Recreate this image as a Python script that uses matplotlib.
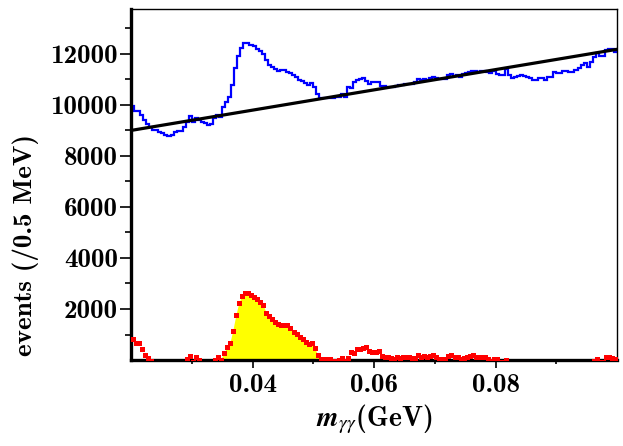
import numpy as np
import matplotlib
matplotlib.use("Agg")
import matplotlib.pyplot as plt
from matplotlib.ticker import FixedLocator

plt.rcParams['mathtext.fontset'] = 'stix'

# binning: 0.5 MeV bins from 0.02 to 0.1 GeV
x_lo, x_hi, nbins = 0.02, 0.1, 160

# data histogram (events / 0.5 MeV)
blue = [9950, 9780, 9780, 9600, 9420, 9250, 9150, 9015, 9015, 8950,
        8900, 8840, 8790, 8820, 8950, 8990, 8960, 9150, 9340, 9560,
        9350, 9480, 9400, 9320, 9300, 9220, 9270, 9500, 9600, 9520,
        9900, 10120, 10300, 10780, 11430, 11920, 12220, 12410, 12410, 12350,
        12300, 12200, 12130, 12000, 11760, 11560, 11470, 11400, 11340, 11370,
        11360, 11310, 11240, 11170, 11080, 10990, 10920, 10840, 10800, 10850,
        10710, 10430, 10260, 10280, 10290, 10290, 10260, 10300, 10330, 10430,
        10330, 10720, 10680, 10900, 10970, 11010, 11040, 10920, 10820, 10880,
        10880, 10910, 10760, 10740, 10720, 10700, 10690, 10740, 10780, 10790,
        10820, 10820, 10830, 10900, 11010, 10970, 11010, 10980, 11040, 11080,
        11040, 11020, 11020, 11020, 11170, 11210, 11150, 11170, 11080, 11200,
        11260, 11290, 11340, 11330, 11300, 11340, 11340, 11300, 11240, 11340,
        11230, 11170, 11170, 11400, 11170, 11070, 11100, 11130, 11160, 11130,
        11080, 11050, 10980, 10970, 11060, 11060, 10980, 11080, 11100, 11300,
        11270, 11240, 11340, 11320, 11280, 11300, 11350, 11430, 11560, 11650,
        11500, 11670, 11860, 12020, 11920, 11920, 12150, 12180, 12180, 12090]

# background-subtracted points
red = [810, 680, 650, 420, 195, 65, -50, -120, -150, -230,
       -300, -380, -450, -440, -330, -310, -360, -190, 30, 160,
       -60, 105, 20, -100, -130, -230, -200, 20, 105, 20,
       260, 500, 650, 1150, 1760, 2250, 2520, 2640, 2640, 2550,
       2460, 2380, 2290, 2155, 1855, 1738, 1594, 1476, 1410, 1370,
       1370, 1370, 1240, 1110, 1005, 914, 810, 692, 626, 650,
       457, 195, 40, 25, 25, 25, -50, -30, -10, 65,
       -40, 65, 325, 260, 430, 430, 483, 520, 352, 300,
       330, 370, 160, 130, 100, 65, 50, 105, 65, 105,
       105, 105, 65, 90, 195, 105, 157, 105, 157, 196,
       105, 26, 26, 26, 157, 196, 131, 105, 26, 65,
       105, 157, 196, 131, 131, 131, 131, 26, -40, 26,
       26, -60, -80, 15, -260, -380, -360, -350, -330, -380,
       -440, -480, -560, -580, -500, -510, -600, -520, -520, -330,
       -370, -420, -330, -360, -420, -430, -400, -340, -230, -150,
       -320, -170, -40, 26, -60, -80, 105, 131, 65, 26]

# linear background fit end points
fit_x = [0.02, 0.1]
fit_y = [9000, 12180]

# signal window (bin indices) for the yellow fill
sig_lo, sig_hi = 29, 63

edges = np.linspace(x_lo, x_hi, nbins + 1)
centers = 0.5 * (edges[:-1] + edges[1:])
blue = np.array(blue)
red = np.array(red)

fig = plt.figure(figsize=(6.23, 4.46), dpi=100)
ax = fig.add_axes([0.2103, 0.1928, 0.7801, 0.787])

ax.fill_between(centers[sig_lo:sig_hi], 0, np.clip(red[sig_lo:sig_hi], 0, None),
                color='yellow', lw=0, zorder=1)
ax.stairs(blue, edges, baseline=None, color='blue', lw=1.6, zorder=2)
ax.plot(fit_x, fit_y, color='black', lw=2.3, zorder=3)
ax.plot(centers, red, 's', color='red', ms=3.6, mew=0, zorder=4)

ax.set_xlim(x_lo, x_hi)
ax.set_ylim(0, 13760)

ax.xaxis.set_major_locator(FixedLocator([0.04, 0.06, 0.08]))
ax.xaxis.set_minor_locator(FixedLocator([0.03, 0.05, 0.07, 0.09]))
ax.yaxis.set_major_locator(FixedLocator([2000, 4000, 6000, 8000, 10000, 12000]))
ax.yaxis.set_minor_locator(FixedLocator([1000, 3000, 5000, 7000, 9000, 11000, 13000]))
ax.set_xticklabels(['0.04', '0.06', '0.08'])
ax.set_yticklabels(['2000', '4000', '6000', '8000', '10000', '12000'])

ax.tick_params(axis='x', which='major', direction='out', length=6, width=1.2,
               labelsize=19.5, pad=4)
ax.tick_params(axis='x', which='minor', direction='out', length=3, width=1.2)
ax.tick_params(axis='y', which='major', direction='out', length=8, width=1.2,
               labelsize=19.5, pad=1.5)
ax.tick_params(axis='y', which='minor', direction='out', length=4, width=1.2)
for lab in ax.get_xticklabels() + ax.get_yticklabels():
    lab.set_fontfamily('cmb10')

for s in ['left', 'bottom']:
    ax.spines[s].set_linewidth(2.4)
for s in ['top', 'right']:
    ax.spines[s].set_linewidth(1.0)

ax.set_ylabel('events (/0.5 MeV)', fontfamily='cmb10', fontsize=19.5)
ax.yaxis.set_label_coords(-0.19, 0.328)
ax.set_xlabel(r'$\mathbfit{m}_{\gamma\gamma}$(GeV)', fontfamily='cmb10', fontsize=20, labelpad=4)

fig.savefig('out.png', dpi=100)
